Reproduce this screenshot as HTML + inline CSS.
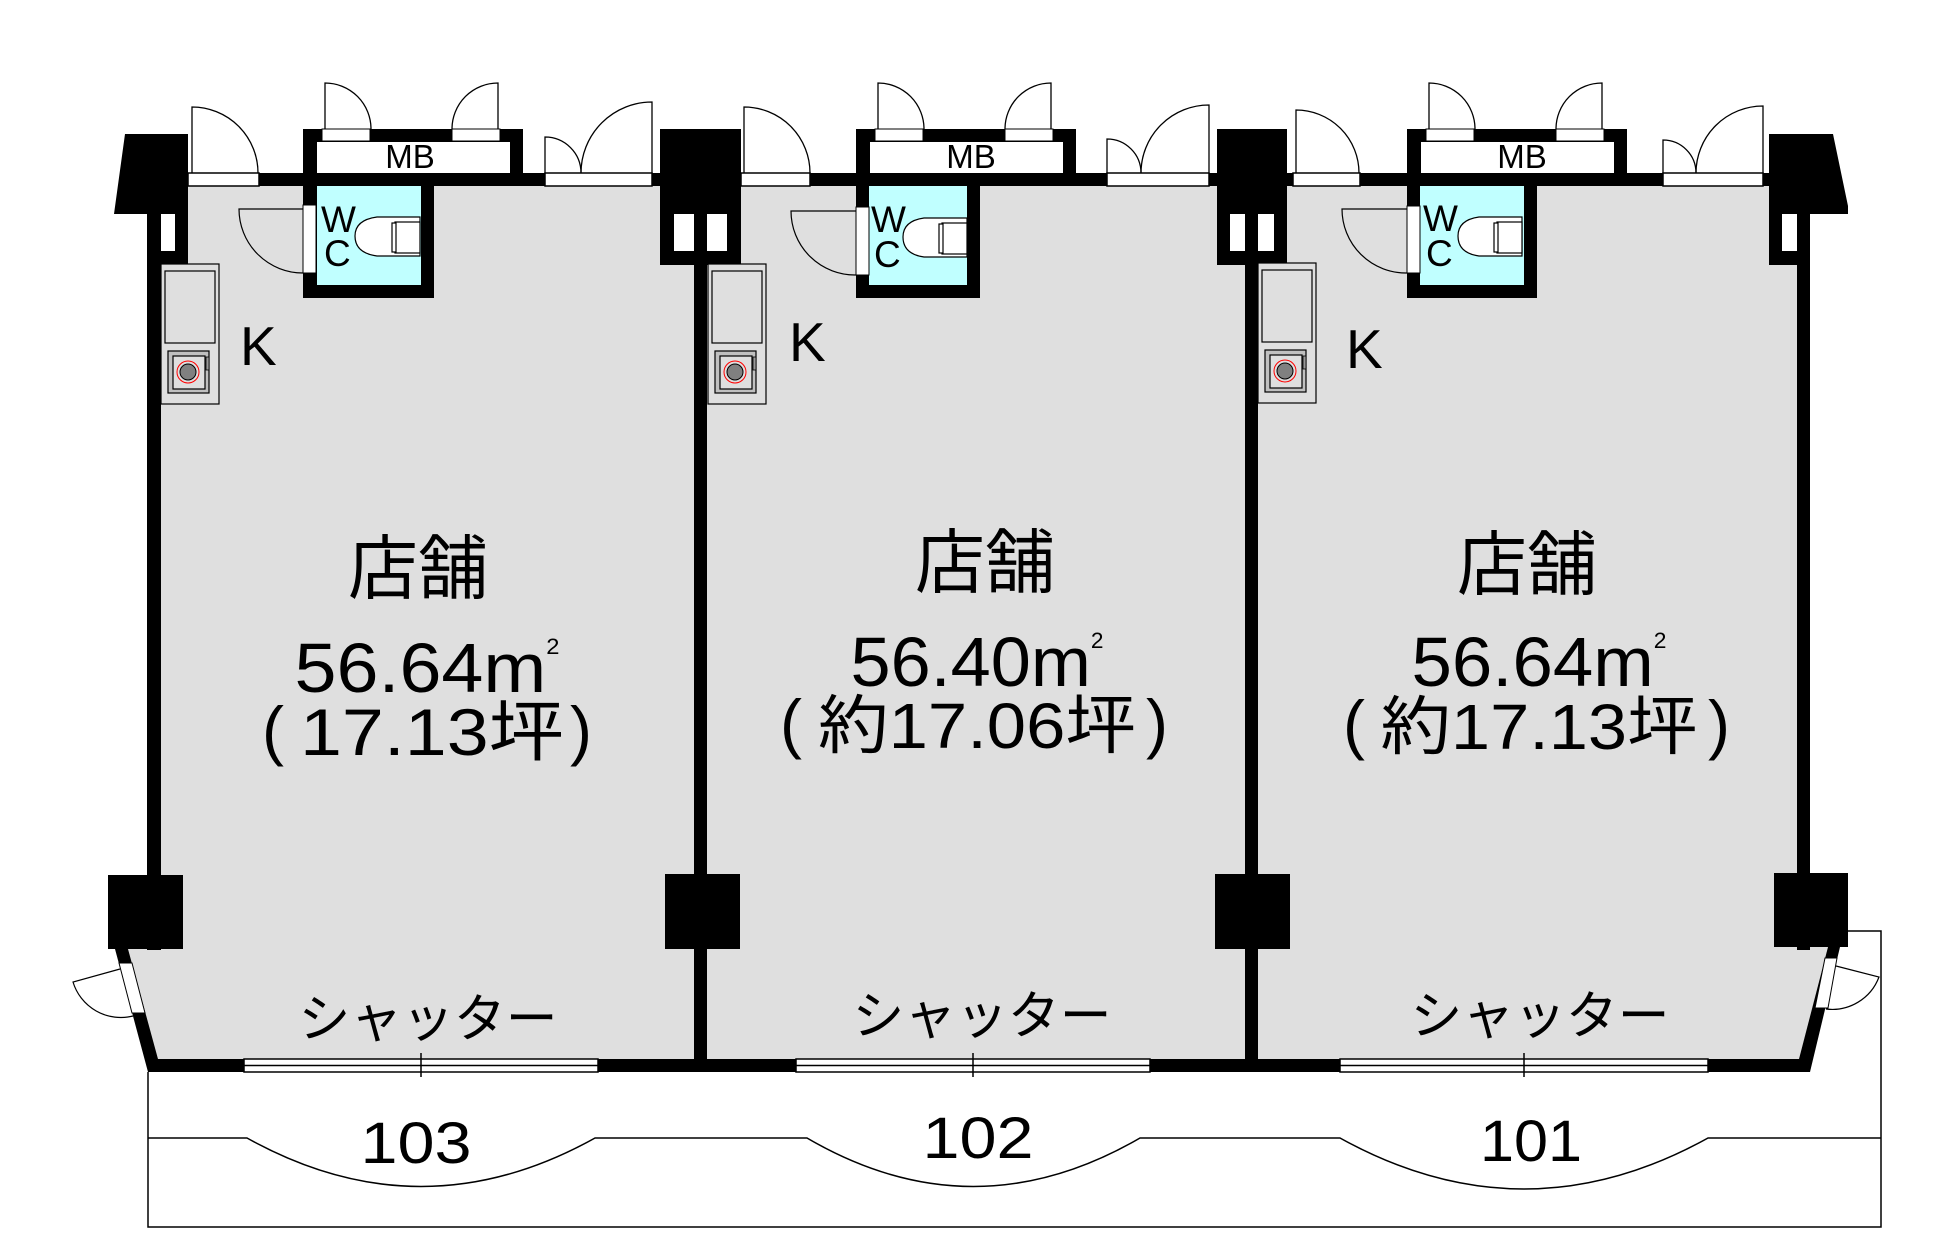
<!DOCTYPE html>
<html><head><meta charset="utf-8"><style>
html,body{margin:0;padding:0;background:#fff;}
svg{display:block;}
text{font-family:"Liberation Sans","Noto Sans CJK JP",sans-serif;fill:#000;}
</style></head><body>
<svg width="1958" height="1260" viewBox="0 0 1958 1260" xmlns="http://www.w3.org/2000/svg">
<polygon points="147,173 1810,173 1810,947 1828,947 1799,1059 158,1059 128,949 147,949" fill="#dfdfdf"/>

<g fill="none" stroke="#000" stroke-width="1.5">
<polyline points="148,1072 148,1227 1881,1227 1881,931 1848,931"/>
<path d="M148,1138 L247,1138 Q421,1235 595,1138 L807,1138 Q973,1235 1140,1138 L1340,1138 Q1524,1240 1708,1138 L1881,1138"/>
</g>

<rect x="147" y="173" width="1663" height="13" fill="#000"/>
<g fill="#fff" stroke="#000" stroke-width="1.5">
<rect x="188" y="173" width="71" height="13"/>
<rect x="545" y="173" width="107" height="13"/>
<rect x="741" y="173" width="69" height="13"/>
<rect x="1107" y="173" width="102" height="13"/>
<rect x="1293" y="173" width="67" height="13"/>
<rect x="1663" y="173" width="100" height="13"/>
</g>
<g fill="none" stroke="#000" stroke-width="1.3">
<path d="M192,173 L192,107 A66,66 0 0 1 258,173"/>
<path d="M545,173 L545,137 A36,36 0 0 1 581,173"/>
<path d="M652,173 L652,102 A71,71 0 0 0 581,173"/>
<path d="M744,173 L744,107 A66,66 0 0 1 810,173"/>
<path d="M1107,173 L1107,139 A34,34 0 0 1 1141,173"/>
<path d="M1209,173 L1209,105 A68,68 0 0 0 1141,173"/>
<path d="M1296,173 L1296,110 A63,63 0 0 1 1359,173"/>
<path d="M1663,173 L1663,140 A33,33 0 0 1 1696,173"/>
<path d="M1763,173 L1763,106 A67,67 0 0 0 1696,173"/>
</g>

<polygon points="125,134 188,134 188,264 147,264 147,214 114,214" fill="#000"/>
<rect x="161" y="214" width="14" height="37" fill="#fff"/>
<polygon points="1769,134 1833,134 1848,206 1848,214 1810,214 1810,265 1769,265" fill="#000"/>
<rect x="1782" y="214" width="15" height="37" fill="#fff"/>
<rect x="147" y="264" width="14" height="686" fill="#000"/>
<rect x="1797" y="265" width="13" height="685" fill="#000"/>
<rect x="660" y="129" width="81" height="136" fill="#000"/>
<rect x="674" y="214" width="20" height="37" fill="#fff"/>
<rect x="707" y="214" width="20" height="37" fill="#fff"/>
<rect x="1217" y="129" width="70" height="136" fill="#000"/>
<rect x="1230" y="214" width="15" height="37" fill="#fff"/>
<rect x="1258" y="214" width="16" height="37" fill="#fff"/>
<rect x="694" y="265" width="13" height="800" fill="#000"/>
<rect x="1245" y="265" width="13" height="800" fill="#000"/>
<rect x="108" y="875" width="75" height="74" fill="#000"/>
<rect x="665" y="874" width="75" height="75" fill="#000"/>
<rect x="1215" y="874" width="75" height="75" fill="#000"/>
<rect x="1774" y="873" width="74" height="74" fill="#000"/>

<polygon points="115,949 128,949 158,1059 158,1072 148,1072" fill="#000"/>
<polygon points="1828,947 1840,947 1810,1072 1799,1072 1799,1059" fill="#000"/>
<polygon points="119,963 132,963 145,1013 132,1013" fill="#fff" stroke="#000" stroke-width="1"/>
<path d="M120,969 L73,982 A50,50 0 0 0 133,1016" fill="none" stroke="#000" stroke-width="1.2"/>
<polygon points="1825,958 1837,958 1828,1008 1815,1008" fill="#fff" stroke="#000" stroke-width="1"/>
<path d="M1836,966 L1879,977 A50,50 0 0 1 1826,1009" fill="none" stroke="#000" stroke-width="1.2"/>

<rect x="148" y="1059" width="1662" height="13" fill="#000"/>
<g fill="#fff" stroke="#000" stroke-width="1.5">
<rect x="244" y="1059" width="354" height="13"/>
<rect x="796" y="1059" width="354" height="13"/>
<rect x="1340" y="1059" width="368" height="13"/>
</g>
<g stroke="#000" stroke-width="1.5">
<line x1="244" y1="1065.5" x2="598" y2="1065.5"/>
<line x1="796" y1="1065.5" x2="1150" y2="1065.5"/>
<line x1="1340" y1="1065.5" x2="1708" y2="1065.5"/>
<line x1="421" y1="1053" x2="421" y2="1077"/>
<line x1="973" y1="1053" x2="973" y2="1077"/>
<line x1="1524" y1="1053" x2="1524" y2="1077"/>
</g>

<defs>
<g id="mbwc1">
<rect x="0" y="129" width="220" height="57" fill="#000"/>
<rect x="14" y="142" width="193" height="31" fill="#fff"/>
<rect x="19" y="129" width="48" height="12" fill="#fff" stroke="#000" stroke-width="1"/>
<rect x="149" y="129" width="48" height="12" fill="#fff" stroke="#000" stroke-width="1"/>
<path d="M22,129 L22,83 A46,46 0 0 1 68,129" fill="none" stroke="#000" stroke-width="1.3"/>
<path d="M195,129 L195,83 A46,46 0 0 0 149,129" fill="none" stroke="#000" stroke-width="1.3"/>
</g>
</defs>
<use href="#mbwc1" x="303"/>
<use href="#mbwc1" x="856"/>
<use href="#mbwc1" x="1407"/>

<rect x="303" y="186" width="131" height="112" fill="#000"/>
<rect x="317" y="186" width="104" height="99" fill="#c0ffff"/>
<rect x="856" y="186" width="124" height="112" fill="#000"/>
<rect x="869" y="186" width="98" height="99" fill="#c0ffff"/>
<rect x="1407" y="186" width="130" height="112" fill="#000"/>
<rect x="1420" y="186" width="104" height="99" fill="#c0ffff"/>
<g fill="#fff" stroke="#000" stroke-width="1">
<rect x="303" y="205" width="13" height="68"/>
<rect x="856" y="207" width="13" height="68"/>
<rect x="1407" y="206" width="13" height="67"/>
</g>
<g fill="none" stroke="#000" stroke-width="1.2">
<path d="M303,209 L239,209 A64,64 0 0 0 303,273"/>
<path d="M856,211 L791,211 A64,64 0 0 0 856,275"/>
<path d="M1407,209 L1342,209 A64,64 0 0 0 1407,273"/>
</g>
<g fill="#fff" stroke="#000" stroke-width="1.2">
<path d="M420,217 L377,217 Q355,220 355,236 Q355,253 377,256 L420,256 Z"/>
<rect x="395" y="222" width="25" height="31"/>
<rect x="392" y="223" width="4" height="29"/>
<path d="M967,218 L924,218 Q903,221 903,237 Q903,254 924,257 L967,257 Z"/>
<rect x="942" y="223" width="25" height="31"/>
<rect x="939" y="224" width="4" height="29"/>
<path d="M1522,217 L1479,217 Q1458,220 1458,236 Q1458,253 1479,256 L1522,256 Z"/>
<rect x="1497" y="222" width="25" height="31"/>
<rect x="1494" y="223" width="4" height="29"/>
</g>
<g font-size="37">
<text x="321" y="232">W</text><text x="324" y="266">C</text>
<text x="871" y="232">W</text><text x="874" y="267">C</text>
<text x="1423" y="231">W</text><text x="1426" y="266">C</text>
</g>
<g font-size="33" text-anchor="middle">
<text x="410" y="168">MB</text>
<text x="971" y="168">MB</text>
<text x="1522" y="168">MB</text>
</g>

<defs>
<g id="kit">
<rect x="0" y="0" width="58" height="140" fill="#dfdfdf" stroke="#000" stroke-width="1.2"/>
<rect x="4" y="7" width="50" height="72" fill="#dfdfdf" stroke="#000" stroke-width="1.2"/>
<rect x="7" y="87" width="41" height="42" fill="#c0c0c0" stroke="#000" stroke-width="1.2"/>
<rect x="12" y="92" width="32" height="33" fill="#dfdfdf" stroke="#000" stroke-width="1.2"/>
<circle cx="27" cy="108" r="11" fill="none" stroke="#f00" stroke-width="1"/>
<circle cx="27" cy="108" r="8" fill="#808080" stroke="#000" stroke-width="1"/>
<rect x="45" y="93" width="3" height="13" fill="#999" stroke="#000" stroke-width="0.8"/>
</g>
</defs>
<use href="#kit" x="161" y="264"/>
<use href="#kit" x="708" y="264"/>
<use href="#kit" x="1258" y="263"/>

<g font-size="55">
<text x="240" y="365">K</text>
<text x="789" y="361">K</text>
<text x="1346" y="368">K</text>
</g>

<g text-anchor="middle">
<text x="418" y="593" font-size="70">店舗</text>
<text x="427" y="692" font-size="70" textLength="265" lengthAdjust="spacingAndGlyphs">56.64m<tspan font-size="22" dy="-38">2</tspan></text>
<text x="432" y="755" font-size="66" textLength="264" lengthAdjust="spacingAndGlyphs">17.13坪</text>

<text x="985" y="587" font-size="70">店舗</text>
<text x="977" y="686" font-size="70" textLength="253" lengthAdjust="spacingAndGlyphs">56.40m<tspan font-size="22" dy="-38">2</tspan></text>
<text x="977" y="748" font-size="64" textLength="318" lengthAdjust="spacingAndGlyphs">約17.06坪</text>

<text x="1527" y="589" font-size="70">店舗</text>
<text x="1539" y="686" font-size="70" textLength="255" lengthAdjust="spacingAndGlyphs">56.64m<tspan font-size="22" dy="-38">2</tspan></text>
<text x="1539" y="749" font-size="64" textLength="317" lengthAdjust="spacingAndGlyphs">約17.13坪</text>

<text x="428" y="1037" font-size="52" textLength="259" lengthAdjust="spacingAndGlyphs">シャッター</text>
<text x="982" y="1034" font-size="52" textLength="259" lengthAdjust="spacingAndGlyphs">シャッター</text>
<text x="1540" y="1034" font-size="52" textLength="259" lengthAdjust="spacingAndGlyphs">シャッター</text>

<text x="416" y="1163" font-size="58" textLength="111" lengthAdjust="spacingAndGlyphs">103</text>
<text x="978" y="1158" font-size="58" textLength="111" lengthAdjust="spacingAndGlyphs">102</text>
<text x="1531" y="1161" font-size="58" textLength="102" lengthAdjust="spacingAndGlyphs">101</text>
</g>
<g font-size="66" font-family="Liberation Sans, sans-serif">
<text x="262" y="753">(</text><text x="570" y="753">)</text>
<text x="780" y="746">(</text><text x="1146" y="746">)</text>
<text x="1343" y="747">(</text><text x="1708" y="747">)</text>
</g>
</svg>
</body></html>
